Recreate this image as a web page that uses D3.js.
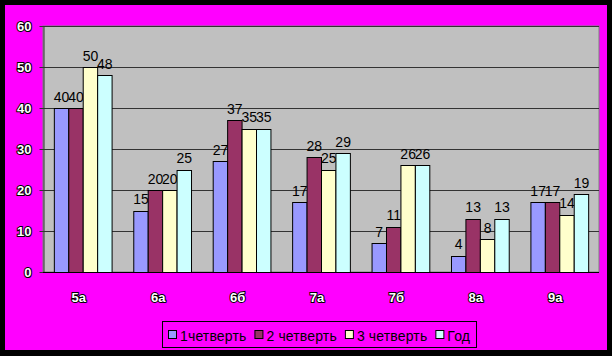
<!DOCTYPE html>
<html>
<head>
<meta charset="utf-8">
<script src="https://cdn.jsdelivr.net/npm/d3@7"></script>
<style>
  html, body { margin: 0; padding: 0; background: #000; }
  svg { display: block; font-family: "Liberation Sans", Arial, sans-serif; }
</style>
</head>
<body>
<svg id="chart" width="612" height="356"></svg>
<script>
// data
const classes = ['5а', '6а', '6б', '7а', '7б', '8а', '9а'];
const seriesNames = ['1четверть', '2 четверть', '3 четверть', 'Год'];
const q1 = [40, 15, 27, 17, 7, 4, 17];
const q2 = [40, 20, 37, 28, 11, 13, 17];
const q3 = [50, 20, 35, 25, 26, 8, 14];
const year = [48, 25, 35, 29, 26, 13, 19];
const yTicks = [0, 10, 20, 30, 40, 50, 60];

const colors = ['#9999FF', '#993366', '#FFFFCC', '#CCFFFF'];
const series = [q1, q2, q3, year];

const svg = d3.select('#chart');

// frame: black page, magenta chart area
svg.append('rect').attr('x', 5).attr('y', 5).attr('width', 602).attr('height', 345).attr('fill', '#FF00FF');

const plot = { left: 43, right: 599, top: 26, bottom: 272 };

const x = d3.scaleBand().domain(classes).range([plot.left, plot.right])
  .paddingInner(0.273).paddingOuter(0.1365);
const xs = d3.scaleBand().domain(d3.range(4)).range([0, x.bandwidth()]);
const y = d3.scaleLinear().domain([0, 60]).range([plot.bottom, plot.top]);

// plot area
svg.append('rect')
  .attr('x', plot.left).attr('y', plot.top)
  .attr('width', plot.right - plot.left).attr('height', plot.bottom - plot.top)
  .attr('fill', '#C0C0C0').attr('stroke', '#808080');

// gridlines
svg.append('g').selectAll('line').data(yTicks.filter(d => d > 0)).join('line')
  .attr('x1', plot.left).attr('x2', plot.right)
  .attr('y1', d => Math.round(y(d)) + 0.5).attr('y2', d => Math.round(y(d)) + 0.5)
  .attr('stroke', '#333');

// y axis
const yAxis = svg.append('g').attr('transform', `translate(${plot.left + 0.5},0)`)
  .call(d3.axisLeft(y).tickValues(yTicks).tickSize(4).tickPadding(8).tickSizeOuter(0));
yAxis.select('.domain').attr('stroke', '#333');
yAxis.selectAll('.tick line').attr('stroke', '#333');
yAxis.selectAll('.tick text')
  .attr('font-size', 13).attr('font-weight', 'bold')
  .attr('fill', '#fff').attr('stroke', '#000').attr('stroke-width', 2)
  .attr('paint-order', 'stroke').attr('font-family', '"Liberation Sans", Arial, sans-serif');

// bars
const groups = svg.append('g').selectAll('g').data(classes).join('g')
  .attr('transform', d => `translate(${x(d)},0)`);

groups.each(function (c, ci) {
  const g = d3.select(this);
  series.forEach((s, si) => {
    const v = s[ci];
    g.append('rect')
      .attr('x', xs(si) + 0.5).attr('y', Math.round(y(v)) + 0.5)
      .attr('width', xs.bandwidth()).attr('height', Math.round(y(0)) - Math.round(y(v)))
      .attr('fill', colors[si]).attr('stroke', '#000');
    g.append('text')
      .attr('x', xs(si) + xs.bandwidth() / 2 + 0.5)
      .attr('y', y(v) - 6.5)
      .attr('text-anchor', 'middle')
      .attr('font-size', 14)
      .attr('fill', '#000')
      .text(v);
  });
});

// x axis line
svg.append('line')
  .attr('x1', plot.left).attr('x2', plot.right)
  .attr('y1', plot.bottom + 0.5).attr('y2', plot.bottom + 0.5)
  .attr('stroke', '#000');

// category labels
svg.append('g').selectAll('text').data(classes).join('text')
  .attr('x', d => x(d) + x.bandwidth() / 2 - 4)
  .attr('y', 302)
  .attr('text-anchor', 'middle')
  .attr('font-size', 13).attr('font-weight', 'bold')
  .attr('fill', '#fff').attr('stroke', '#000').attr('stroke-width', 2)
  .attr('paint-order', 'stroke')
  .text(d => d);

// legend
const legend = svg.append('g');
legend.append('rect')
  .attr('x', 162.5).attr('y', 321.5).attr('width', 314).attr('height', 26)
  .attr('fill', '#FF00FF').attr('stroke', '#000');
let lx = 168;
seriesNames.forEach((name, i) => {
  legend.append('rect')
    .attr('x', lx + 0.5).attr('y', 330.5).attr('width', 8).attr('height', 8)
    .attr('fill', colors[i]).attr('stroke', '#000');
  const t = legend.append('text')
    .attr('x', lx + 12).attr('y', 341)
    .attr('font-size', 14).attr('letter-spacing', 0.15).attr('fill', '#000')
    .text(name);
  lx += 12 + t.node().getComputedTextLength() + 8;
});
</script>
</body>
</html>
